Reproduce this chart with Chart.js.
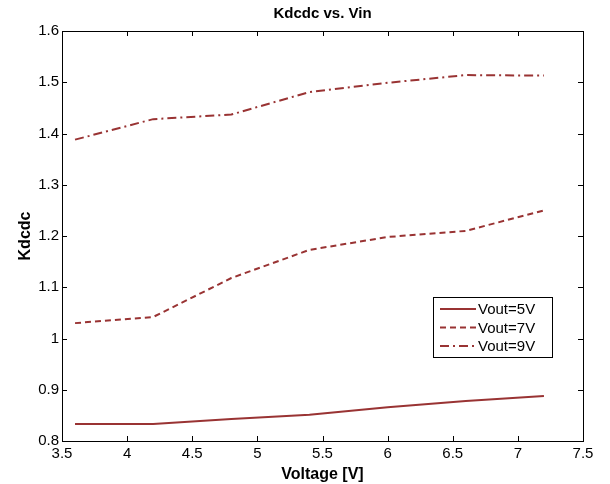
<!DOCTYPE html>
<html>
<head>
<meta charset="utf-8">
<script src="https://cdn.jsdelivr.net/npm/chart.js@4"></script>
<style>
  html, body { margin: 0; padding: 0; background: #fff; }
  canvas { display: block; }
</style>
</head>
<body>
<canvas id="chart" width="610" height="484"></canvas>
<script>
/* data */
const vin = [3.6, 4.2, 4.8, 5.4, 6.0, 6.6, 7.2];
const vout5 = [0.833, 0.833, 0.843, 0.851, 0.866, 0.878, 0.888];
const vout7 = [1.030, 1.042, 1.118, 1.173, 1.198, 1.210, 1.250];
const vout9 = [1.388, 1.428, 1.437, 1.481, 1.499, 1.514, 1.513];
const seriesLabels = ['Vout=5V', 'Vout=7V', 'Vout=9V'];
const xTicks = [3.5, 4, 4.5, 5, 5.5, 6, 6.5, 7, 7.5];
const yTicks = [0.8, 0.9, 1, 1.1, 1.2, 1.3, 1.4, 1.5, 1.6];

const RED = '#993333';
const FONT = 'Liberation Sans, Arial, Helvetica, sans-serif';

function pts(ys) { return vin.map((x, i) => ({ x, y: ys[i] })); }

// box, inward ticks, title and in-plot legend (matlab style)
const matlabFrame = {
  id: 'matlabFrame',
  afterDatasetsDraw(chart) {
    const { ctx, chartArea: a, scales } = chart;
    ctx.save();
    ctx.strokeStyle = '#000';
    ctx.lineWidth = 1;
    ctx.strokeRect(Math.round(a.left) + 0.5, Math.round(a.top) + 0.5,
      Math.round(a.right - a.left), Math.round(a.bottom - a.top));
    const tl = 5;
    ctx.beginPath();
    xTicks.forEach(v => {
      const px = Math.round(scales.x.getPixelForValue(v)) + 0.5;
      ctx.moveTo(px, a.bottom); ctx.lineTo(px, a.bottom - tl);
      ctx.moveTo(px, a.top); ctx.lineTo(px, a.top + tl);
    });
    yTicks.forEach(v => {
      const py = Math.round(scales.y.getPixelForValue(v)) + 0.5;
      ctx.moveTo(a.left, py); ctx.lineTo(a.left + tl, py);
      ctx.moveTo(a.right, py); ctx.lineTo(a.right - tl, py);
    });
    ctx.stroke();

    // title
    ctx.fillStyle = '#000';
    ctx.font = 'bold 15px ' + FONT;
    ctx.textAlign = 'center';
    ctx.textBaseline = 'middle';
    ctx.fillText('Kdcdc vs. Vin', (a.left + a.right) / 2, 14);

    // legend
    const lx = 433, ly = 297, lw = 119, lh = 60;
    ctx.fillStyle = '#fff';
    ctx.fillRect(lx, ly, lw, lh);
    ctx.strokeStyle = '#000';
    ctx.strokeRect(lx + 0.5, ly + 0.5, lw, lh);
    ctx.font = '15px ' + FONT;
    ctx.textAlign = 'left';
    chart.data.datasets.forEach((ds, i) => {
      const y = ly + 12 + i * 18.5;
      ctx.strokeStyle = ds.borderColor;
      ctx.lineWidth = ds.borderWidth;
      ctx.setLineDash(ds.borderDash || []);
      ctx.beginPath();
      ctx.moveTo(lx + 7, y); ctx.lineTo(lx + 43, y);
      ctx.stroke();
      ctx.setLineDash([]);
      ctx.fillStyle = '#000';
      ctx.fillText(ds.label, lx + 45, y + 1);
    });
    ctx.restore();
  }
};

new Chart(document.getElementById('chart'), {
  type: 'line',
  data: {
    datasets: [
      { label: seriesLabels[0], data: pts(vout5), borderColor: RED, borderWidth: 2, pointRadius: 0, tension: 0 },
      { label: seriesLabels[1], data: pts(vout7), borderColor: RED, borderWidth: 2, borderDash: [6, 4], pointRadius: 0, tension: 0 },
      { label: seriesLabels[2], data: pts(vout9), borderColor: RED, borderWidth: 2, borderDash: [9, 4, 2, 4], pointRadius: 0, tension: 0 },
    ]
  },
  options: {
    responsive: false, animation: false,
    layout: { padding: { left: 0, right: 27, top: 31, bottom: 0 } },
    plugins: { legend: { display: false }, tooltip: { enabled: false } },
    scales: {
      x: {
        type: 'linear', min: 3.5, max: 7.5,
        afterBuildTicks: s => { s.ticks = xTicks.map(v => ({ value: v })); },
        afterFit: s => { s.height = 43; },
        grid: { display: false, drawTicks: false }, border: { display: false },
        ticks: { color: '#000', font: { family: FONT, size: 15 }, padding: 4, maxRotation: 0, callback: v => String(+v.toFixed(2)) },
        title: { display: true, text: 'Voltage [V]', color: '#000', font: { family: FONT, size: 16, weight: 'bold' }, padding: { top: 13, bottom: 0 } }
      },
      y: {
        min: 0.8, max: 1.6,
        afterBuildTicks: s => { s.ticks = yTicks.map(v => ({ value: v })); },
        afterFit: s => { s.width = 62; },
        grid: { display: false, drawTicks: false }, border: { display: false },
        ticks: { color: '#000', font: { family: FONT, size: 15 }, padding: 3, callback: v => String(+v.toFixed(2)) },
        title: { display: true, text: 'Kdcdc', color: '#000', font: { family: FONT, size: 16, weight: 'bold' }, padding: { top: 16, bottom: 0 } }
      }
    }
  },
  plugins: [matlabFrame]
});
</script>
</body>
</html>
